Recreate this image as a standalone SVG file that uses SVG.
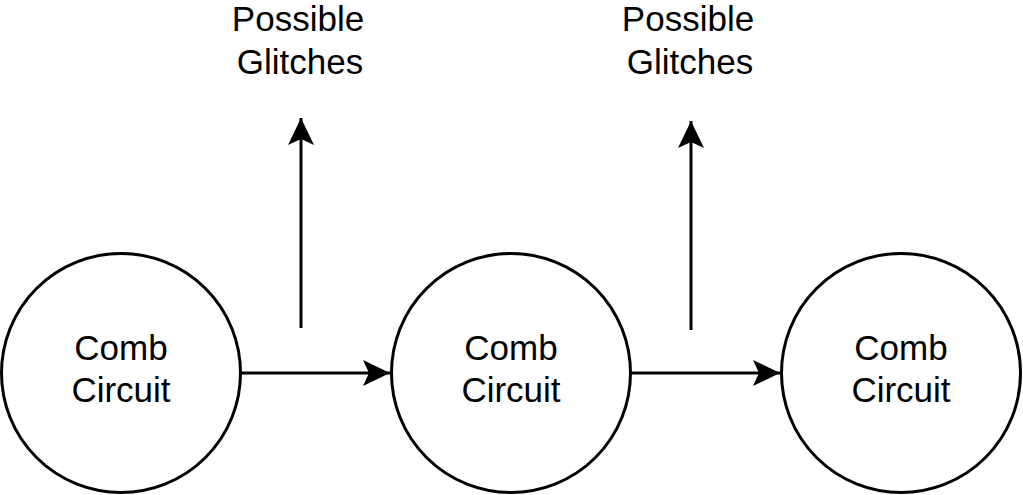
<svg xmlns="http://www.w3.org/2000/svg" width="1023" height="495" viewBox="0 0 1023 495">
<style>
.node circle{fill:#fff;stroke:#000;stroke-width:3}
text{font-family:"Liberation Sans",Arial,sans-serif;font-size:35px;fill:#000;text-anchor:middle}
.edge{stroke:#000;stroke-width:3;fill:none}
</style>
<defs>
<marker id="arr" markerWidth="30" markerHeight="30" viewBox="0 0 30 30" refX="27" refY="15" markerUnits="userSpaceOnUse" orient="auto">
<path d="M0,2 L27,15 L0,28 L6,15 Z" fill="#000"/>
</marker>
</defs>
<rect width="1023" height="495" fill="#fff"/>
<g id="connectors">
<line class="edge" x1="242" y1="373" x2="390" y2="373" marker-end="url(#arr)"/>
<line class="edge" x1="632" y1="373" x2="780" y2="373" marker-end="url(#arr)"/>
<line class="edge" x1="301" y1="328" x2="301" y2="118" marker-end="url(#arr)"/>
<line class="edge" x1="691" y1="330" x2="691" y2="121" marker-end="url(#arr)"/>
</g>
<g id="node1" class="node"><circle cx="121" cy="373" r="119.5"/><text x="121" y="360">Comb</text><text x="121" y="402">Circuit</text></g>
<g id="node2" class="node"><circle cx="511" cy="373" r="119.5"/><text x="511" y="360">Comb</text><text x="511" y="402">Circuit</text></g>
<g id="node3" class="node"><circle cx="901" cy="373" r="119.5"/><text x="901" y="360">Comb</text><text x="901" y="402">Circuit</text></g>
<g id="label1"><text x="298" y="31">Possible</text><text x="300" y="74">Glitches</text></g>
<g id="label2"><text x="688" y="31">Possible</text><text x="690" y="74">Glitches</text></g>
</svg>
